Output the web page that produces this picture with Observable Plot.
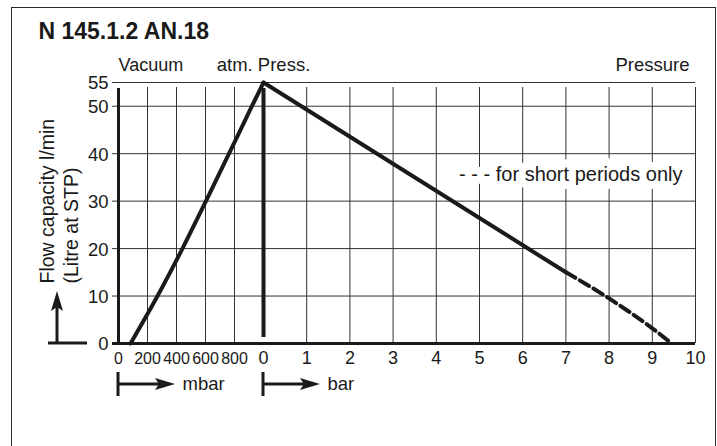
<!DOCTYPE html>
<html><head><meta charset="utf-8">
<script src="https://cdn.jsdelivr.net/npm/d3@7"></script>
<script src="https://cdn.jsdelivr.net/npm/@observablehq/plot@0.6"></script>
<style>
html,body{margin:0;padding:0;background:#fff;}
#wrap{position:relative;width:717px;height:446px;overflow:hidden;}
#border{position:absolute;left:11px;top:7px;width:705px;height:460px;border:1.5px solid #2a2a2a;box-sizing:border-box;pointer-events:none;}
</style></head><body><div id="wrap"><div id="border"></div></div>
<script>
// data
const title = "N 145.1.2 AN.18";
const vacuumMbar = [83, 269, 441, 603, 762, 920, 1000];
const vacuumFlow = [0, 10, 20, 30, 40, 50, 55];
const pressureBar = [0, 7];
const pressureFlow = [55, 15];
const shortBar = [7, 8, 9, 9.45];
const shortFlow = [15, 9.5, 3.2, 0];
const mbarTicks = [0, 200, 400, 600, 800];
const barTicks = [0, 1, 2, 3, 4, 5, 6, 7, 8, 9, 10];
const flowTicks = [0, 10, 20, 30, 40, 50, 55];
const yTitle = "Flow capacity l/min\n(Litre at STP)";
const legendText = "- - - for short periods only";

// combined x position: vacuum in mbar shifted to (mbar - 1000), pressure in bar
const vac = vacuumMbar.map((m, i) => ({x: m - 1000, y: vacuumFlow[i]}));
const pres = pressureBar.map((b, i) => ({x: b, y: pressureFlow[i]}));
const short = shortBar.map((b, i) => ({x: b, y: shortFlow[i]}));
const gridX = [...mbarTicks.filter(m => m > 0).map(m => m - 1000), ...barTicks.filter(b => b > 0)];
const gridY = flowTicks.filter(v => v > 0);
const ink = "#1a1a1a";
const FONT = "Liberation Sans, Arial, Helvetica, sans-serif";

const chart = Plot.plot({
  width: 717, height: 446,
  marginLeft: 118, marginRight: 22, marginTop: 82, marginBottom: 103,
  style: {fontFamily: FONT, fontSize: "18px", background: "transparent", color: ink},
  x: {type: "linear", domain: [-1000, 0, 10], range: [118, 263, 695], axis: null},
  y: {domain: [0, 55], axis: null},
  marks: [
    Plot.ruleX(gridX, {y1: 0, y2: 55, stroke: "#333", strokeWidth: 1, insetBottom: -5}),
    Plot.ruleY(gridY, {x1: -1000, x2: 10, stroke: "#333", strokeWidth: 1, insetLeft: -6}),
    Plot.ruleY([0], {x1: -1000, x2: 10, stroke: ink, strokeWidth: 3, insetLeft: -6}),
    Plot.ruleX([-1000], {y1: 0, y2: 55, stroke: ink, strokeWidth: 3, insetBottom: -6}),
    Plot.ruleX([0], {y1: 0, y2: 55, stroke: ink, strokeWidth: 4, insetTop: -6, insetBottom: -6}),
    Plot.text([legendText], {frameAnchor: "top-right", dx: -13, dy: 92, textAnchor: "end", lineAnchor: "middle",
      fontSize: 20, fill: ink, stroke: "white", strokeWidth: 16}),
    Plot.line(vac, {x: "x", y: "y", stroke: ink, strokeWidth: 4, curve: "monotone-x"}),
    Plot.line(pres, {x: "x", y: "y", stroke: ink, strokeWidth: 4}),
    Plot.line(short, {x: "x", y: "y", stroke: ink, strokeWidth: 4, strokeDasharray: "11,5", curve: "monotone-x"}),
    Plot.text(flowTicks, {x: -1000, y: d => d, text: d => String(d), textAnchor: "end", dx: -10, dy: 1, fontSize: 18.5, fill: ink}),
    Plot.text(mbarTicks, {x: d => d - 1000, y: 0, text: d => String(d), dy: 15, fontSize: 16, fill: ink, letterSpacing: "-0.6px"}),
    Plot.text(barTicks, {x: d => d, y: 0, text: d => String(d), dy: 15, fontSize: 18, fill: ink}),
    Plot.text(["Vacuum"], {x: -1000, y: 55, dy: -17, textAnchor: "start", fontSize: 18, fill: ink}),
    Plot.text(["atm. Press."], {x: 0, y: 55, dy: -17, textAnchor: "middle", fontSize: 18.5, fill: ink}),
    Plot.text(["Pressure"], {x: 10, y: 55, dy: -17, dx: -6, textAnchor: "end", fontSize: 18.5, fill: ink}),
    Plot.text([title], {frameAnchor: "top-left", dx: -80, dy: -51, textAnchor: "start", lineAnchor: "middle",
      fontSize: 23, fontWeight: "bold", fill: ink, letterSpacing: "0.7px"}),
    Plot.text([yTitle], {frameAnchor: "bottom-left", rotate: -90, textAnchor: "start", lineAnchor: "middle",
      lineHeight: 1.25, dx: -60, dy: -60, fontSize: 19.5, fill: ink}),
    Plot.text(["mbar"], {x: -1000, y: 0, dx: 64, dy: 41, textAnchor: "start", fontSize: 18.5, fill: ink}),
    Plot.text(["bar"], {x: 0, y: 0, dx: 64, dy: 41, textAnchor: "start", fontSize: 18.5, fill: ink})
  ]
});
document.getElementById("wrap").appendChild(chart);

// decorative axis arrows, positioned from the scales
const sx = chart.scale("x"), sy = chart.scale("y");
const x0 = sx.apply(-1000), xa = sx.apply(0), y0 = sy.apply(0);
const g = d3.select(chart).append("g").attr("fill", ink).attr("stroke", ink);
const ax = x0 - 61;
g.append("line").attr("x1", x0 - 70).attr("x2", x0 - 31).attr("y1", y0).attr("y2", y0).attr("stroke-width", 3);
g.append("line").attr("x1", ax).attr("x2", ax).attr("y1", y0).attr("y2", y0 - 36).attr("stroke-width", 3);
g.append("path").attr("stroke", "none").attr("d", `M${ax},${y0 - 52}L${ax - 6},${y0 - 32}L${ax},${y0 - 36}L${ax + 6},${y0 - 32}Z`);
for (const bx of [x0, xa]) {
  const yy = y0 + 41;
  g.append("line").attr("x1", bx).attr("x2", bx).attr("y1", yy - 12).attr("y2", yy + 12).attr("stroke-width", 3);
  g.append("line").attr("x1", bx).attr("x2", bx + 42).attr("y1", yy).attr("y2", yy).attr("stroke-width", 3);
  g.append("path").attr("stroke", "none").attr("d", `M${bx + 57},${yy}L${bx + 37},${yy - 6}L${bx + 41},${yy}L${bx + 37},${yy + 6}Z`);
}
</script></body></html>
